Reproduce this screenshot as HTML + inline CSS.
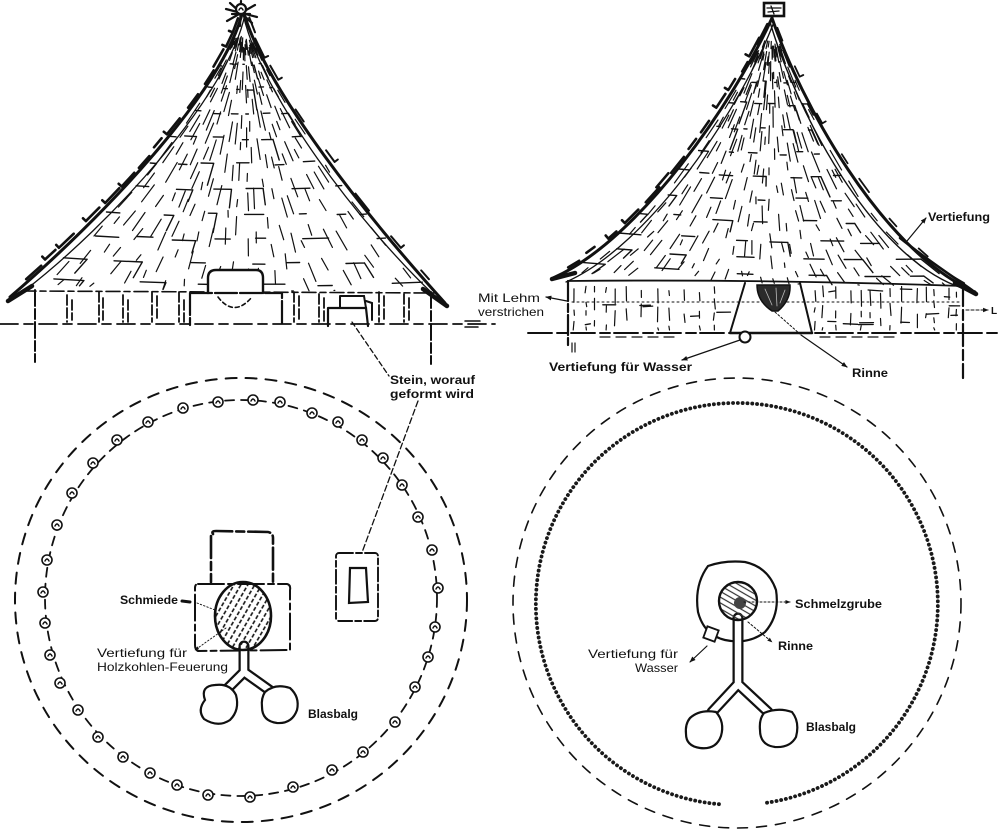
<!DOCTYPE html>
<html><head><meta charset="utf-8"><style>
html,body{margin:0;padding:0;background:#fff;}
svg{display:block;}
text{font-family:"Liberation Sans",sans-serif;font-weight:bold;font-size:12px;fill:#111;}
</style></head><body>
<svg id="s" width="1000" height="835" viewBox="0 0 1000 835" xmlns="http://www.w3.org/2000/svg">
<defs>
<marker id="ah" viewBox="0 0 10 10" refX="9" refY="5" markerWidth="5" markerHeight="5" orient="auto"><path d="M0,1 L10,5 L0,9 z" fill="#111"/></marker>
<pattern id="hatch" width="6" height="6" patternUnits="userSpaceOnUse" patternTransform="rotate(-60)"><line x1="0" y1="3" x2="6" y2="3" stroke="#111" stroke-width="1.6" stroke-dasharray="4 2"/></pattern>
<pattern id="scrib" width="5" height="5" patternUnits="userSpaceOnUse" patternTransform="rotate(30)"><line x1="0" y1="2" x2="5" y2="2" stroke="#333" stroke-width="1.2"/></pattern>
</defs>
<rect width="1000" height="835" fill="#fff"/>

<g id="tx"></g>

<g fill="none" stroke="#111" stroke-linecap="round">
<!-- LEFT HUT -->
<path d="M243,10 C225,90 100,220 10,297" stroke-width="3"/>
<path d="M245,14 C229,95 110,225 24,291" stroke-width="1.3"/>
<path d="M243,10 C265,90 370,220 445,303" stroke-width="3"/>
<path d="M243,14 C261,95 360,225 434,295" stroke-width="1.3"/>
<path d="M22,291 L436,293" stroke-width="1.6" stroke-dasharray="14 4 6 4"/>
<path d="M8,301 L32,286" stroke-width="4.5"/>
<path d="M423,289 L447,306" stroke-width="4.5"/>
<g stroke-width="2.2">
<path d="M226,9 L257,17 M230,3 L252,23 M241,1 L240,26 M227,21 L255,5 M232,14 L250,14"/>
<circle cx="241" cy="9" r="5" fill="#fff"/>
</g>
<path d="M35,290 V362" stroke-width="2" stroke-dasharray="16 3 10 3"/>
<path d="M431,292 V364" stroke-width="2" stroke-dasharray="16 3 10 3"/>
<g stroke-width="1.8" stroke-dasharray="10 3">
<path d="M67,295V322 M72,300V320 M99,292V322 M103,298V320 M123,295V322 M128,300V322 M152,292V322 M157,296V318 M179,292V322 M184,300V322 M294,292V322 M299,296V320 M319,294V322 M324,298V322 M379,292V322 M384,296V320 M404,294V322 M409,298V320"/>
</g>
<path d="M208,293 L208,278 Q208,270 216,270 L256,270 Q263,270 263,278 L263,293" stroke-width="2.4" fill="#fff"/>
<path d="M190,293 L282,293 L282,325 M190,293 L190,325" stroke-width="2.2" stroke-dasharray="22 3"/>
<path d="M218,297 Q234,318 252,297" stroke-width="1.6" stroke-dasharray="4 3"/>
<path d="M340,296 L364,296 L366,308 M340,296 L340,308 M366,301 L372,303 L372,320" stroke-width="2"/>
<path d="M328,308 L366,308 L368,326 M328,308 L328,326" stroke-width="2.2"/>
<path d="M0,324 L495,324" stroke-width="1.8" stroke-dasharray="18 6 9 6"/>
<path d="M465,321 L480,321 M465,327 L478,327" stroke-width="1.5"/>

<!-- RIGHT HUT -->
<path d="M772,18 C735,100 640,240 553,278" stroke-width="3"/>
<path d="M774,22 C740,110 650,245 566,282" stroke-width="1.3"/>
<path d="M772,18 C800,100 880,250 975,292" stroke-width="3"/>
<path d="M770,22 C796,110 872,258 962,288" stroke-width="1.4"/>
<path d="M900,238 C930,262 955,278 972,290" stroke-width="2.5"/>
<path d="M568,281 Q760,279 962,286" stroke-width="1.8"/>
<path d="M552,279 L575,273" stroke-width="4.5"/>
<path d="M955,283 L976,294" stroke-width="4.5"/>
<rect x="764" y="3" width="20" height="13" stroke-width="2.6" fill="#fff"/>
<path d="M767,8 L781,8 M768,12 L779,11 M771,6 L774,14" stroke-width="1.3"/>
<path d="M568,281 V345" stroke-width="2.2" stroke-dasharray="20 3 8 3"/>
<path d="M572,343 V352 M575,343 V352" stroke-width="1.2"/>
<path d="M963,284 V378" stroke-width="2.2" stroke-dasharray="22 4 10 4"/>
<path d="M572,302 L960,302" stroke-width="1" stroke-dasharray="2 3"/>
<path d="M528,333 L1000,333" stroke-width="1.9" stroke-dasharray="24 5 10 4"/>
<path d="M600,337 L680,337 M820,337 L900,337" stroke-width="1.2" stroke-dasharray="10 6"/>
<path d="M745,283 L730,333 M800,283 L812,333" stroke-width="2"/>
<path d="M757,285 L790,285 Q791,300 778,311 L772,311 Q757,301 757,285 Z" fill="#2a2a2a" stroke-width="1.5"/>
<path d="M765,289 L772,305 M776,288 L777,306 M785,290 L780,303" stroke="#bbb" stroke-width="0.8"/>
<path d="M730,333 L812,333" stroke-width="2.5"/>
<circle cx="745" cy="337" r="5.5" stroke-width="2" fill="#fff"/>

<!-- right hut labels lines -->
<path d="M907,241 L926,218" stroke-width="1.2" marker-end="url(#ah)"/>
<path d="M567,301 L546,297" stroke-width="1.2" marker-end="url(#ah)"/>
<path d="M966,310 L988,310" stroke-width="1.1" stroke-dasharray="3 2" marker-end="url(#ah)"/>
<path d="M740,340 L682,360" stroke-width="1.2" marker-end="url(#ah)"/>
<path d="M775,312 L800,334" stroke-width="1" stroke-dasharray="2 2"/>
<path d="M801,335 L847,367" stroke-width="1.2" marker-end="url(#ah)"/>

<!-- Stein leader -->
<path d="M352,322 L389,376" stroke-width="1.3" stroke-dasharray="5 3"/>
<path d="M418,401 L357,566" stroke-width="1.3" stroke-dasharray="6 3"/>

<!-- LEFT PLAN -->
<ellipse cx="241" cy="600" rx="226" ry="222" stroke-width="2" stroke-dasharray="11 9"/>
<ellipse cx="241" cy="598" rx="196" ry="198" stroke-width="1.8" stroke-dasharray="9 7"/>
<g stroke-width="1.6" fill="#fff">
<circle cx="183" cy="408" r="5"/><circle cx="218" cy="402" r="5"/><circle cx="253" cy="400" r="5"/><circle cx="280" cy="402" r="5"/><circle cx="312" cy="413" r="5"/><circle cx="338" cy="422" r="5"/><circle cx="362" cy="440" r="5"/><circle cx="383" cy="458" r="5"/><circle cx="402" cy="485" r="5"/><circle cx="418" cy="517" r="5"/><circle cx="432" cy="550" r="5"/><circle cx="438" cy="588" r="5"/><circle cx="435" cy="627" r="5"/><circle cx="428" cy="657" r="5"/><circle cx="415" cy="687" r="5"/><circle cx="395" cy="722" r="5"/><circle cx="363" cy="752" r="5"/><circle cx="332" cy="770" r="5"/><circle cx="293" cy="787" r="5"/><circle cx="250" cy="797" r="5"/><circle cx="208" cy="795" r="5"/><circle cx="177" cy="785" r="5"/><circle cx="150" cy="773" r="5"/><circle cx="123" cy="757" r="5"/><circle cx="98" cy="737" r="5"/><circle cx="78" cy="710" r="5"/><circle cx="60" cy="683" r="5"/><circle cx="50" cy="655" r="5"/><circle cx="45" cy="623" r="5"/><circle cx="43" cy="592" r="5"/><circle cx="47" cy="560" r="5"/><circle cx="57" cy="525" r="5"/><circle cx="72" cy="493" r="5"/><circle cx="93" cy="463" r="5"/><circle cx="117" cy="440" r="5"/><circle cx="148" cy="422" r="5"/>
</g>
<path id="postmarks" stroke-width="1.4" d=""/>

<path d="M213,534 Q211,531 216,531 L268,532 Q273,533 273,538 L273,582 M211,536 L211,582" stroke-width="2.6" stroke-dasharray="22 4 8 4"/>
<path d="M198,584 L287,584 Q291,585 290,590 L290,650 L198,651 Q195,650 195,645 L195,588 Q195,584 198,584 Z" stroke-width="2" stroke-dasharray="26 4 6 4" fill="#fff"/>
<path d="M244,646 L244,672 M244,672 L224,692 M244,672 L272,692" stroke-width="11" stroke-linejoin="round"/>
<path d="M244,646 L244,672 M244,672 L224,692 M244,672 L272,692" stroke="#fff" stroke-width="6.5" stroke-linejoin="round"/>
<ellipse cx="243" cy="616" rx="28" ry="34" stroke-width="2.6" fill="url(#hatch)"/>
<path d="M205,700 Q200,686 215,685 Q230,683 236,695 Q240,710 230,720 Q218,728 204,719 Q197,710 205,700 Z" stroke-width="2.2" fill="#fff"/>
<path d="M265,692 Q275,683 290,688 Q300,697 297,710 Q292,724 277,723 Q262,721 262,707 Q261,698 265,692 Z" stroke-width="2.2" fill="#fff"/>
<rect x="336" y="553" width="42" height="68" rx="3" stroke-width="1.9" stroke-dasharray="14 3 6 3" fill="#fff"/>
<path d="M350,568 L366,568 L368,602 L349,603 Z" stroke-width="2.2" fill="#fff"/>
<path d="M182,601 L190,602" stroke-width="3"/>
<path d="M197,603 L215,610" stroke-width="0.9" stroke-dasharray="1.5 2"/>
<path d="M226,628 L195,650" stroke-width="0.9" stroke-dasharray="1.5 2" marker-end="url(#ah)"/>

<!-- RIGHT PLAN -->
<ellipse cx="737" cy="603" rx="224" ry="225" stroke-width="1.6" stroke-dasharray="10 9"/>
<path d="M767,802.7 A201,201 0 1 0 723,804.5" stroke="#1a1a1a" stroke-width="3.8" stroke-dasharray="0.1 4.7"/>
<path d="M708,566 Q725,560 745,562 Q768,567 776,590 Q780,615 765,632 Q748,645 725,640 Q704,635 698,612 Q694,585 708,566 Z" stroke-width="2.2" fill="#fff"/>
<path d="M738,618 L738,684 M738,684 L712,712 M738,684 L768,712" stroke-width="11" stroke-linejoin="round"/>
<path d="M738,618 L738,684 M738,684 L712,712 M738,684 L768,712" stroke="#fff" stroke-width="6.5" stroke-linejoin="round"/>
<circle cx="738" cy="601" r="19" stroke-width="2.4" fill="url(#scrib)"/>
<circle cx="740" cy="603" r="6" fill="#444" stroke="none"/>
<path d="M690,718 Q700,709 716,712 Q725,722 721,736 Q716,750 700,748 Q686,746 686,734 Q685,724 690,718 Z" stroke-width="2.2" fill="#fff"/>
<path d="M764,713 Q778,707 792,712 Q800,722 796,737 Q790,748 775,747 Q760,745 760,730 Q759,719 764,713 Z" stroke-width="2.2" fill="#fff"/>
<rect x="705" y="628" width="12" height="12" transform="rotate(20 711 634)" stroke-width="1.8" fill="#fff"/>
<path d="M744,602 L790,602" stroke-width="1" stroke-dasharray="2 2" marker-end="url(#ah)"/>
<path d="M748,622 L772,642" stroke-width="1" stroke-dasharray="2 2" marker-end="url(#ah)"/>
<path d="M707,646 L690,662" stroke-width="1.2" marker-end="url(#ah)"/>
</g>

<!-- LABELS -->
<text x="390" y="384" textLength="85" lengthAdjust="spacingAndGlyphs">Stein, worauf</text>
<text x="390" y="398" textLength="84" lengthAdjust="spacingAndGlyphs">geformt wird</text>
<text x="928" y="221" textLength="62" lengthAdjust="spacingAndGlyphs">Vertiefung</text>
<text x="478" y="302" textLength="62" lengthAdjust="spacingAndGlyphs" style="font-weight:normal">Mit Lehm</text>
<text x="478" y="316" textLength="66" lengthAdjust="spacingAndGlyphs" style="font-weight:normal">verstrichen</text>
<text x="991" y="314" style="font-size:10px">L</text>
<text x="549" y="371" textLength="143" lengthAdjust="spacingAndGlyphs">Vertiefung für Wasser</text>
<text x="852" y="377" textLength="36" lengthAdjust="spacingAndGlyphs">Rinne</text>
<text x="120" y="604" textLength="58" lengthAdjust="spacingAndGlyphs">Schmiede</text>
<text x="97" y="657" textLength="90" lengthAdjust="spacingAndGlyphs" style="font-weight:normal">Vertiefung für</text>
<text x="97" y="671" textLength="131" lengthAdjust="spacingAndGlyphs" style="font-weight:normal">Holzkohlen-Feuerung</text>
<text x="308" y="718" textLength="50" lengthAdjust="spacingAndGlyphs">Blasbalg</text>
<text x="795" y="608" textLength="87" lengthAdjust="spacingAndGlyphs">Schmelzgrube</text>
<text x="778" y="650" textLength="35" lengthAdjust="spacingAndGlyphs">Rinne</text>
<text x="588" y="658" textLength="90" lengthAdjust="spacingAndGlyphs" style="font-weight:normal">Vertiefung für</text>
<text x="635" y="672" textLength="43" lengthAdjust="spacingAndGlyphs" style="font-weight:normal">Wasser</text>
<text x="806" y="731" textLength="50" lengthAdjust="spacingAndGlyphs">Blasbalg</text>
</svg>
<script>
(function(){
var NS="http://www.w3.org/2000/svg";
var g=document.getElementById('tx');
var seed=12345;
function r(){seed|=0;seed=seed+0x6D2B79F5|0;var t=Math.imul(seed^seed>>>15,1|seed);t=t+Math.imul(t^t>>>7,61|t)^t;return((t^t>>>14)>>>0)/4294967296;}
function B(P,t){var u=1-t;return[u*u*u*P[0][0]+3*u*u*t*P[1][0]+3*u*t*t*P[2][0]+t*t*t*P[3][0],u*u*u*P[0][1]+3*u*u*t*P[1][1]+3*u*t*t*P[2][1]+t*t*t*P[3][1]];}
function sg(p,q){return 'M'+p[0].toFixed(1)+' '+p[1].toFixed(1)+'L'+q[0].toFixed(1)+' '+q[1].toFixed(1);}
function add(d,w,col){var p=document.createElementNS(NS,'path');p.setAttribute('d',d);p.setAttribute('stroke-width',w);p.setAttribute('stroke',col||'#111');p.setAttribute('fill','none');p.setAttribute('stroke-linecap','round');g.appendChild(p);}
function roof(L,R,nR,sag,smax,tiers){
 function P(s,u){var a=B(L,s),b=B(R,s);return[a[0]+(b[0]-a[0])*u,a[1]+(b[1]-a[1])*u+sag*s*4*u*(1-u)];}
 var rays='',tr='';
 for(var k=1;k<nR;k++){var u=(k+(r()-0.5)*0.6)/nR;var s=0.08+r()*0.08;
  while(s<smax){var ds=0.02+r()*0.045;var s2=Math.min(smax,s+ds);var du=(r()-0.5)*0.01;rays+=sg(P(s,u),P(s2,u+du));s=s2+0.03+r()*0.07;}
 }
 for(var i=0;i<tiers.length;i++){var s=tiers[i];var u=r()*0.06;
  while(u<0.97){var du=0.025+r()*0.06;var u2=Math.min(0.99,u+du);var s_=s+(r()-0.5)*0.012;tr+=sg(P(s_,u),P(s_,u2));
   if(r()<0.35){var s3=Math.min(smax,s_+0.03+r()*0.04);tr+=sg(P(s_,u2),P(s3,u2));}
   u=u2+0.05+r()*0.12;}
 }
 add(rays,1.2);add(tr,1.4);
}
function jag(C,sign,step,w){var d='';var t=0.06;
 while(t<0.97){var p=B(C,t),q=B(C,t+0.01);var tx=q[0]-p[0],ty=q[1]-p[1];var l=Math.sqrt(tx*tx+ty*ty)||1;tx/=l;ty/=l;
  var nx=sign>0?-ty:ty,ny=sign>0?tx:-tx;var off=2+r()*3;var len=5+r()*6;
  var a=[p[0]+nx*off-tx*len,p[1]+ny*off-ty*len],b=[p[0]+nx*off+tx*len,p[1]+ny*off+ty*len];d+=sg(a,b);
  if(r()<0.5){d+=sg(b,[b[0]+nx*4,b[1]+ny*4]);}
  t+=step*(0.7+r()*0.6);}
 add(d,w);}
var tiersL=[],tiersR=[];
for(var s=0.2;s<0.94;s+=0.08)tiersL.push(s);
for(var s=0.22;s<0.95;s+=0.075)tiersR.push(s);
var LL=[[243,12],[225,90],[100,220],[10,297]],LR=[[243,12],[265,90],[370,220],[445,303]];
var RL=[[772,20],[735,100],[640,240],[553,278]],RR=[[772,20],[800,100],[880,250],[975,292]];
roof(LL,LR,26,6,0.94,tiersL);
roof(RL,RR,30,5,0.95,tiersR);
jag(LL,1,0.07,2.6);jag(LR,-1,0.11,2);
jag(RL,1,0.065,2.6);jag(RR,-1,0.12,1.8);
// right hut wall
var d='';var x=574;
while(x<958){if(x>726&&x<814){x+=4;continue;}
 var y=286+r()*8;while(y<328){var y2=Math.min(330,y+4+r()*12);d+=sg([x,y],[x+(r()-0.5)*2,y2]);y=y2+4+r()*10;}
 x+=7+r()*10;}
add(d,1.2);
var h='';for(var i=0;i<22;i++){var xx=575+r()*380;if(xx>726&&xx<814)continue;var yy=288+r()*38;h+=sg([xx,yy],[xx+5+r()*10,yy+(r()-0.5)*2]);}
add(h,1.3);
// post marks inside left plan circles
var pm='';var cs=document.querySelectorAll('circle[r="5"]');
for(var i=0;i<cs.length;i++){var cx=+cs[i].getAttribute('cx'),cy=+cs[i].getAttribute('cy');pm+='M'+(cx-2)+' '+(cy+1)+'Q'+cx+' '+(cy-3)+' '+(cx+2)+' '+(cy+1);}
document.getElementById('postmarks').setAttribute('d',pm);
})();
</script>
</body></html>
